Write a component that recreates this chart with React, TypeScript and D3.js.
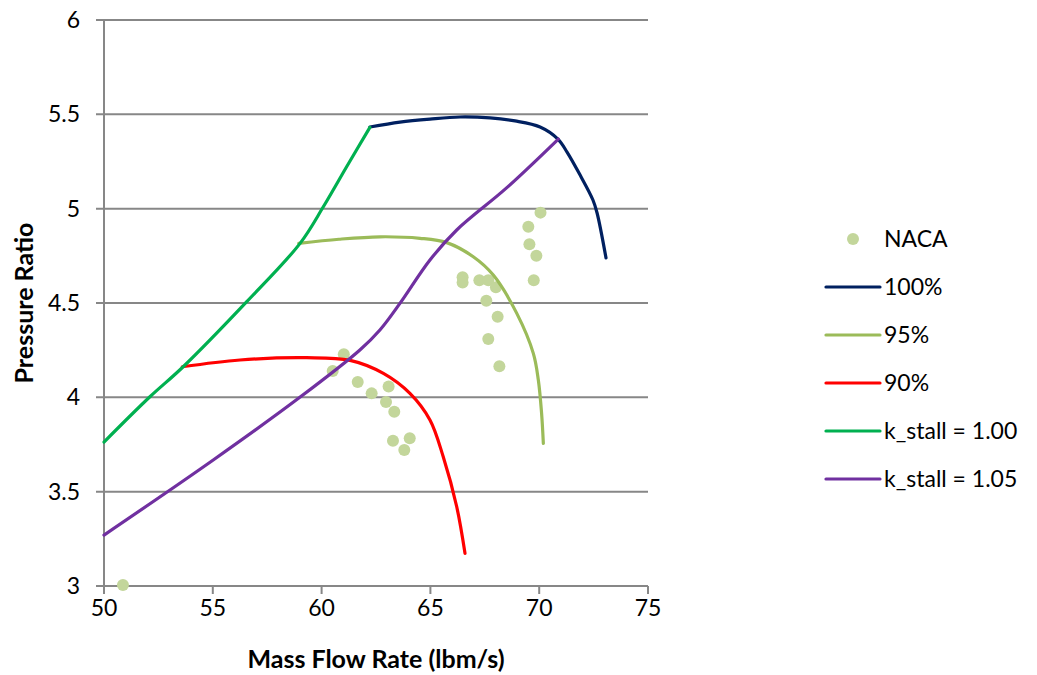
import { useEffect, useRef } from "react";
import * as d3 from "d3";

// NACA measured points [mass flow, pressure ratio]
const nacaX = [50.87, 61.02, 60.51, 61.66, 62.3, 63.08, 62.96, 63.34, 63.28, 64.05, 63.8,
  66.48, 66.48, 67.25, 67.66, 68.01, 67.57, 68.09, 67.66, 68.17,
  70.06, 69.5, 69.55, 69.87, 69.75];
const nacaY = [3.005, 4.228, 4.14, 4.081, 4.021, 4.058, 3.975, 3.924, 3.77, 3.783, 3.721,
  4.636, 4.608, 4.62, 4.62, 4.583, 4.512, 4.427, 4.309, 4.165,
  4.979, 4.904, 4.811, 4.751, 4.62];

// speed lines
const speed100X = [62.22, 63.6, 64.98, 66.36, 67.74, 68.89, 70.04, 70.86, 71.28, 71.88, 72.47, 72.66, 73.07];
const speed100Y = [5.433, 5.459, 5.475, 5.486, 5.481, 5.465, 5.433, 5.369, 5.3, 5.178, 5.046, 4.977, 4.739];

const speed95X = [58.95, 60.8, 62.68, 64.52, 65.75, 66.97, 67.89, 68.97, 69.73, 69.96, 70.11, 70.19];
const speed95Y = [4.816, 4.838, 4.851, 4.843, 4.82, 4.745, 4.648, 4.445, 4.233, 4.092, 3.915, 3.756];

const speed90X = [53.6, 56.25, 59.31, 61.31, 62.84, 64.06, 64.98, 65.59, 66.21, 66.59];
const speed90Y = [4.162, 4.198, 4.21, 4.196, 4.127, 4.021, 3.88, 3.685, 3.42, 3.173];

// stall lines
const stall100X = [50.0, 52.11, 53.64, 56.56, 59.01, 60.08, 61.15, 62.22];
const stall100Y = [3.763, 4.003, 4.162, 4.507, 4.816, 5.01, 5.222, 5.431];

const stall105X = [50.0, 55.02, 59.0, 61.76, 62.68, 63.6, 64.98, 66.21, 68.5, 70.88];
const stall105Y = [3.27, 3.668, 4.0, 4.251, 4.357, 4.498, 4.728, 4.887, 5.11, 5.369];

const xTicks = [50, 55, 60, 65, 70, 75];
const yTicks = [3, 3.5, 4, 4.5, 5, 5.5, 6];

const seriesNames = ["NACA", "100%", "95%", "90%", "k_stall = 1.00", "k_stall = 1.05"];
const seriesColors = ["#c3d69b", "#002060", "#9bbb59", "#ff0000", "#00b050", "#7030a0"];

const App = () => {
  const ref = useRef<SVGSVGElement>(null);

  useEffect(() => {
    const svg = d3.select(ref.current);
    svg.selectAll("*").remove();

    const width = 1037;
    const height = 675;
    const margin = { top: 20, right: 389, bottom: 89, left: 104 };
    const font = "Lato, 'Open Sans', sans-serif";
    const fs = 23;

    svg.attr("width", width).attr("height", height);

    const x = d3.scaleLinear().domain([50, 75]).range([margin.left, width - margin.right]);
    const y = d3.scaleLinear().domain([3, 6]).range([height - margin.bottom, margin.top]);

    const grid = "#878787";

    // gridlines (with tick extension on the left)
    svg.append("g")
      .selectAll("line")
      .data(yTicks)
      .join("line")
      .attr("x1", margin.left - 8)
      .attr("x2", width - margin.right)
      .attr("y1", (d) => y(d))
      .attr("y2", (d) => y(d))
      .attr("stroke", grid)
      .attr("stroke-width", 2);

    // y axis line
    svg.append("line")
      .attr("x1", margin.left).attr("x2", margin.left)
      .attr("y1", margin.top).attr("y2", height - margin.bottom)
      .attr("stroke", grid).attr("stroke-width", 2);

    // x ticks
    svg.append("g")
      .selectAll("line")
      .data(xTicks)
      .join("line")
      .attr("x1", (d) => x(d)).attr("x2", (d) => x(d))
      .attr("y1", height - margin.bottom)
      .attr("y2", height - margin.bottom + 8)
      .attr("stroke", grid).attr("stroke-width", 2);

    // tick labels
    svg.append("g")
      .selectAll("text")
      .data(yTicks)
      .join("text")
      .attr("x", margin.left - 24)
      .attr("y", (d) => y(d))
      .attr("dy", "0.35em")
      .attr("text-anchor", "end")
      .attr("font-family", font)
      .attr("font-size", fs)
      .attr("fill", "#000")
      .text((d) => String(d));

    svg.append("g")
      .selectAll("text")
      .data(xTicks)
      .join("text")
      .attr("x", (d) => x(d))
      .attr("y", height - margin.bottom + 30)
      .attr("text-anchor", "middle")
      .attr("font-family", font)
      .attr("font-size", fs)
      .attr("fill", "#000")
      .text((d) => String(d));

    // axis titles
    svg.append("text")
      .attr("x", (margin.left + width - margin.right) / 2)
      .attr("y", 668)
      .attr("text-anchor", "middle")
      .attr("font-family", font)
      .attr("font-weight", "bold")
      .attr("font-size", 25)
      .text("Mass Flow Rate (lbm/s)");

    svg.append("text")
      .attr("transform", `translate(33,${(margin.top + height - margin.bottom) / 2}) rotate(-90)`)
      .attr("text-anchor", "middle")
      .attr("font-family", font)
      .attr("font-weight", "bold")
      .attr("font-size", 25)
      .text("Pressure Ratio");

    // lines
    const line = d3.line<[number, number]>()
      .x((d) => x(d[0]))
      .y((d) => y(d[1]))
      .curve(d3.curveCatmullRom.alpha(0.5));

    const lineSeries: [number[], number[]][] = [
      [speed100X, speed100Y],
      [speed95X, speed95Y],
      [speed90X, speed90Y],
      [stall100X, stall100Y],
      [stall105X, stall105Y],
    ];

    const plot = svg.append("g");

    // NACA points underneath the lines
    const naca = nacaX.map((v, i) => [v, nacaY[i]] as [number, number]);
    plot.append("g")
      .selectAll("circle")
      .data(naca)
      .join("circle")
      .attr("cx", (d) => x(d[0]))
      .attr("cy", (d) => y(d[1]))
      .attr("r", 6)
      .attr("fill", seriesColors[0]);

    lineSeries.forEach(([xs, ys], i) => {
      const pts = xs.map((v, j) => [v, ys[j]] as [number, number]);
      plot.append("path")
        .datum(pts)
        .attr("fill", "none")
        .attr("stroke", seriesColors[i + 1])
        .attr("stroke-width", 3.2)
        .attr("stroke-linejoin", "round")
        .attr("stroke-linecap", "round")
        .attr("d", line);
    });

    // legend
    const legend = svg.append("g").attr("transform", "translate(826,239)");
    seriesNames.forEach((name, i) => {
      const g = legend.append("g").attr("transform", `translate(0,${i * 48})`);
      if (i === 0) {
        g.append("circle").attr("cx", 27).attr("cy", 0).attr("r", 6).attr("fill", seriesColors[0]);
      } else {
        g.append("line")
          .attr("x1", 0).attr("x2", 54)
          .attr("y1", 0).attr("y2", 0)
          .attr("stroke", seriesColors[i])
          .attr("stroke-width", 3.2)
          .attr("stroke-linecap", "round");
      }
      g.append("text")
        .attr("x", 58)
        .attr("y", 0)
        .attr("dy", "0.35em")
        .attr("font-family", font)
        .attr("font-size", fs)
        .text(name);
    });
  }, []);

  return (
    <div style={{ position: "absolute", left: 0, top: 0 }}>
      <svg ref={ref}></svg>
    </div>
  );
};

export default App;
